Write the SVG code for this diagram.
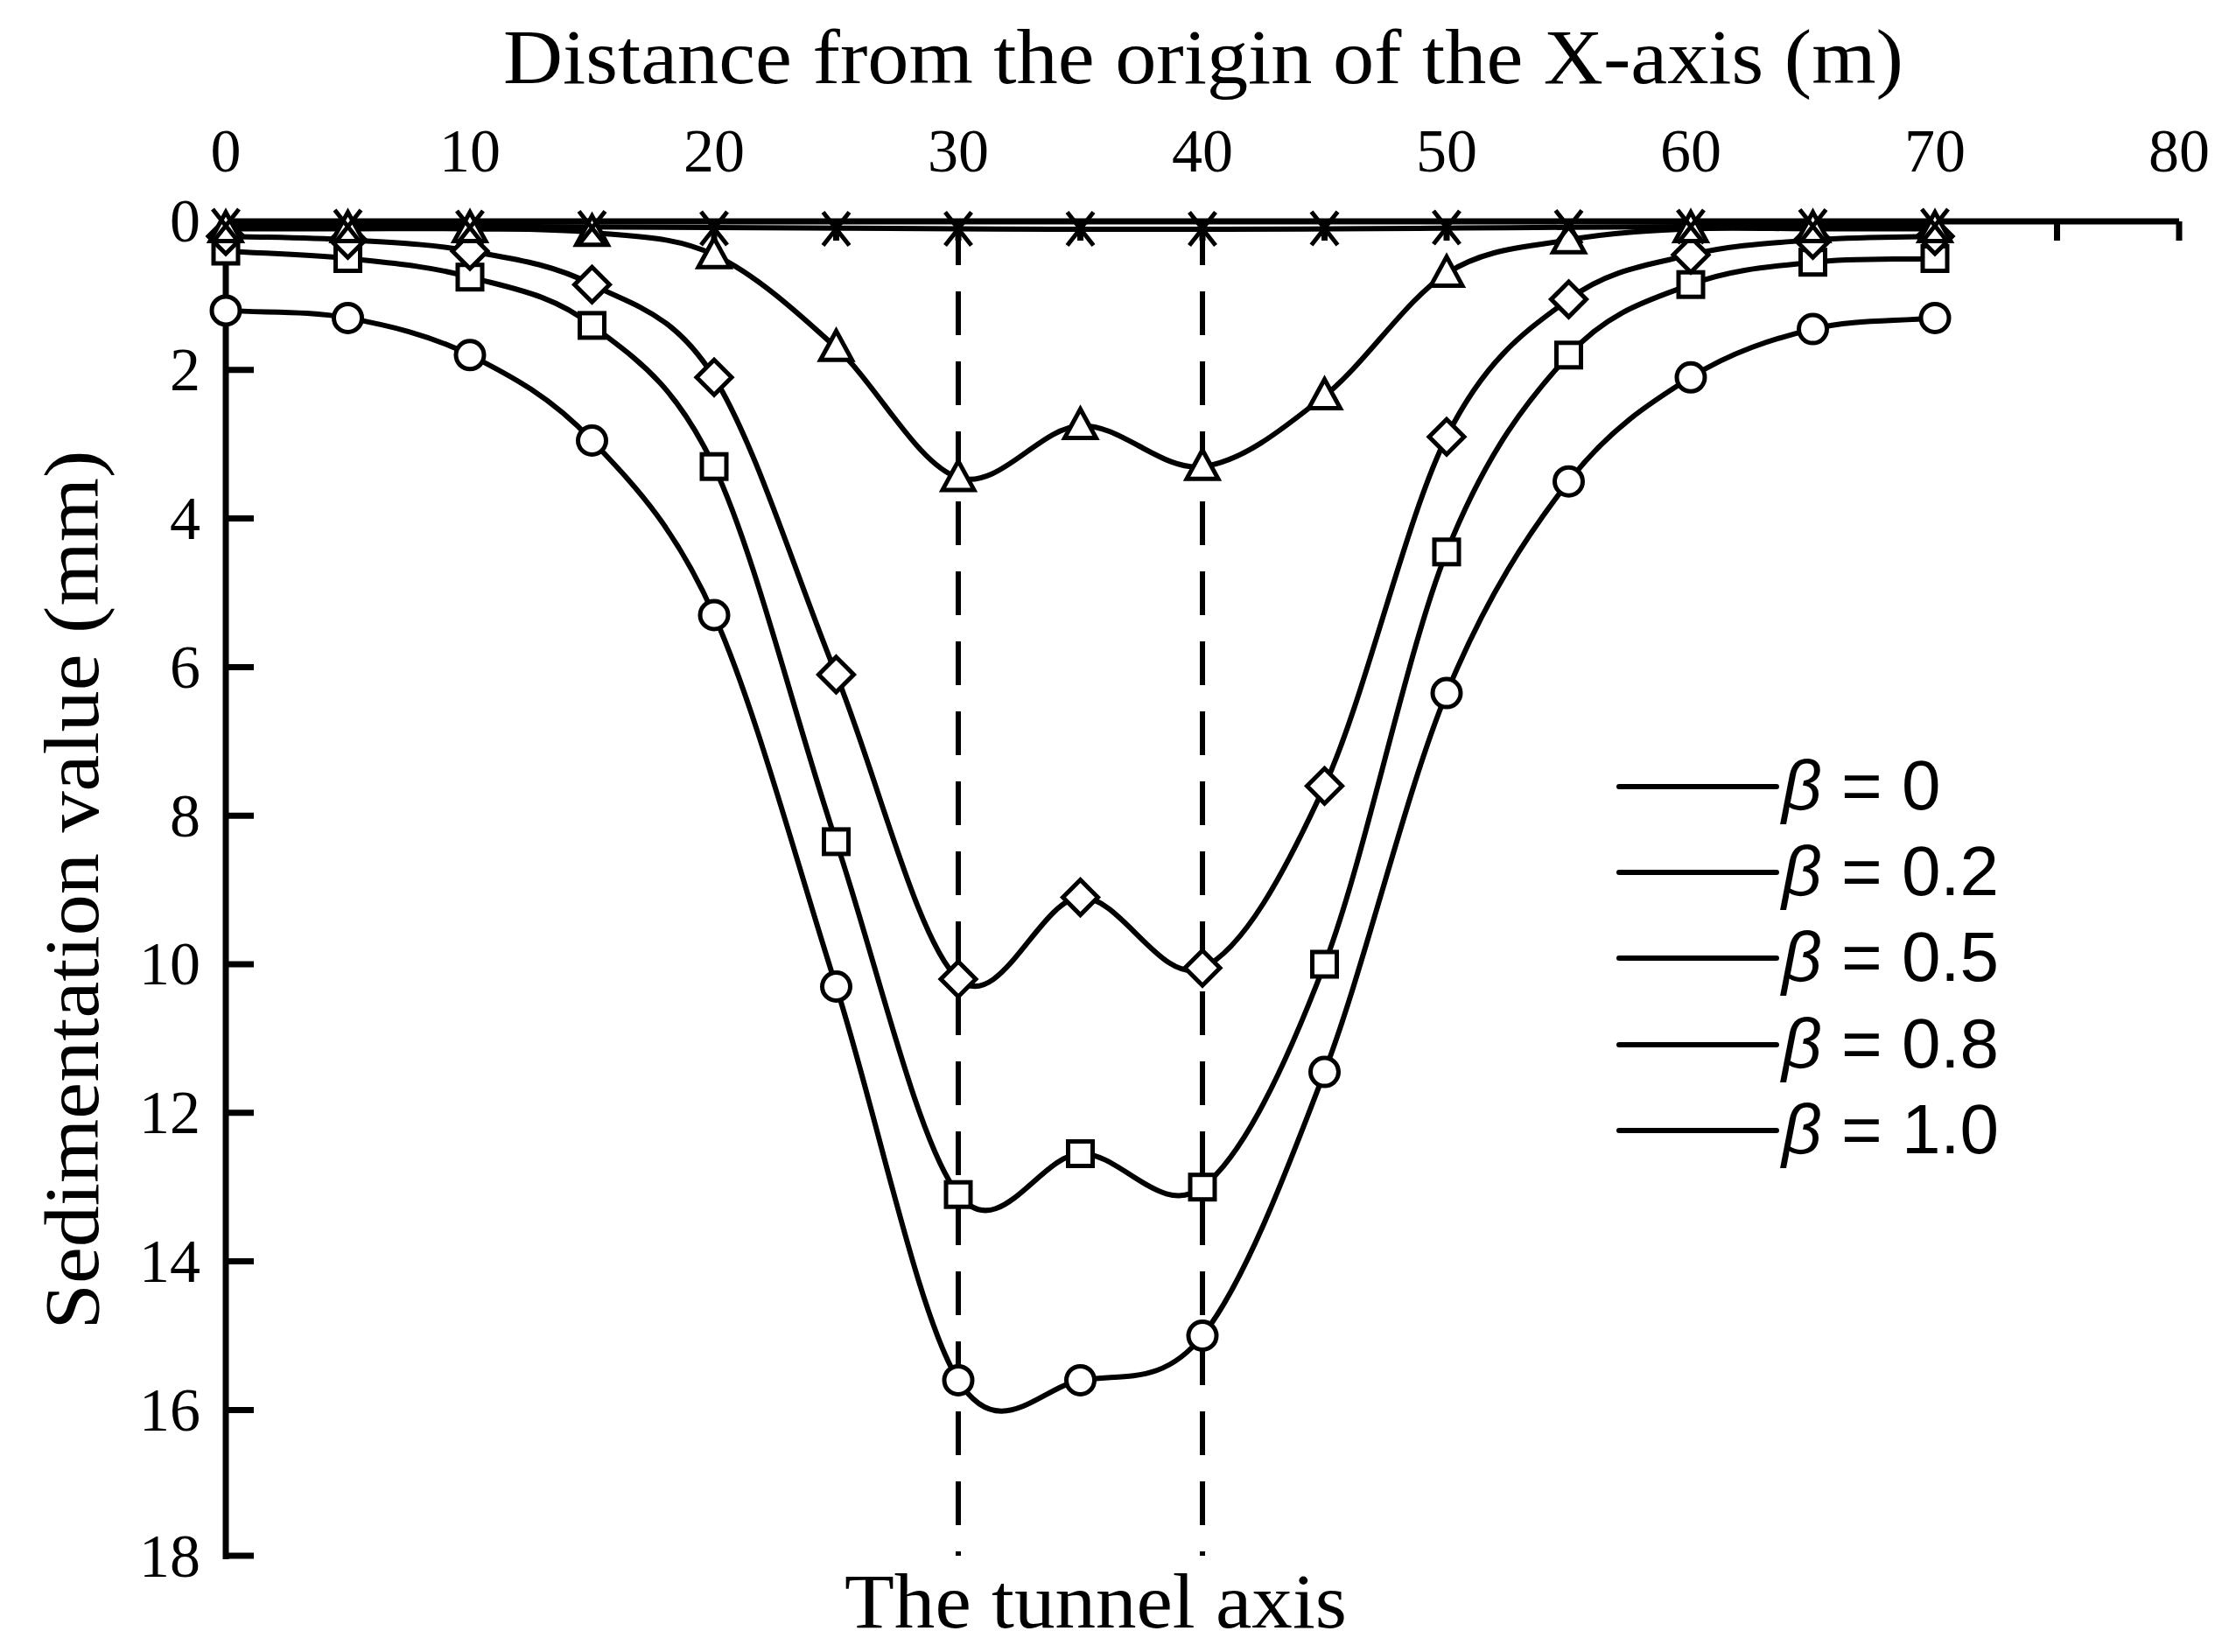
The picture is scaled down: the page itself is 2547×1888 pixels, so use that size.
<svg xmlns="http://www.w3.org/2000/svg" width="2547" height="1888" viewBox="0 0 2547 1888">
<style>
.t{font-family:"Liberation Serif","Times New Roman",serif;fill:#000}
.a{font-family:"Liberation Sans",Arial,sans-serif;fill:#000;font-size:80px}
.ax{stroke:#000;stroke-width:7;fill:none}
.c{fill:none;stroke:#000;stroke-width:6;vector-effect:non-scaling-stroke;stroke-linejoin:round}
.m{fill:none;stroke:none}
</style>
<defs>
<marker id="mo" markerUnits="userSpaceOnUse" markerWidth="50" markerHeight="50" refX="25" refY="25" overflow="visible"><circle cx="25" cy="25" r="16" fill="#fff" stroke="#000" stroke-width="5"/></marker>
<marker id="ms" markerUnits="userSpaceOnUse" markerWidth="50" markerHeight="50" refX="25" refY="25" overflow="visible"><rect x="11" y="11" width="28" height="28" fill="#fff" stroke="#000" stroke-width="5"/></marker>
<marker id="md" markerUnits="userSpaceOnUse" markerWidth="50" markerHeight="50" refX="25" refY="25" overflow="visible"><polygon points="25,5 45,25 25,45 5,25" fill="#fff" stroke="#000" stroke-width="5"/></marker>
<marker id="mt" markerUnits="userSpaceOnUse" markerWidth="50" markerHeight="50" refX="25" refY="25" overflow="visible"><polygon points="25,6 43,39 7,39" fill="#fff" stroke="#000" stroke-width="5"/></marker>
<marker id="mx" markerUnits="userSpaceOnUse" markerWidth="50" markerHeight="50" refX="25" refY="25" overflow="visible"><path d="M10,6 L40,44 M40,6 L10,44" stroke="#000" stroke-width="5"/></marker>
</defs>
<rect width="2547" height="1888" fill="#fff"/>
<g id="axes">
<path class="ax" d="M258,253 H2490 M258,249 V1782"/>
<path class="ax" d="M397.5,253 v22 M537,253 v22 M676.5,253 v22 M816,253 v22 M955.5,253 v22 M1095,253 v22 M1234.5,253 v22 M1374,253 v22 M1513.5,253 v22 M1653,253 v22 M1792.5,253 v22 M1932,253 v22 M2071.5,253 v22 M2211,253 v22 M2350.5,253 v22 M2490,253 v22"/>
<path class="ax" d="M258,422.8 h32 M258,592.6 h32 M258,762.4 h32 M258,932.2 h32 M258,1102 h32 M258,1271.8 h32 M258,1441.6 h32 M258,1611.4 h32 M258,1778 h32"/>
<g class="t" font-size="70" text-anchor="middle">
<text x="258" y="196">0</text><text x="537" y="196">10</text><text x="816" y="196">20</text><text x="1095" y="196">30</text><text x="1374" y="196">40</text><text x="1653" y="196">50</text><text x="1932" y="196">60</text><text x="2211" y="196">70</text><text x="2490" y="196">80</text>
</g>
<g class="t" font-size="70" text-anchor="end">
<text x="229" y="276">0</text><text x="229" y="446">2</text><text x="229" y="616">4</text><text x="229" y="786">6</text><text x="229" y="956">8</text><text x="229" y="1125">10</text><text x="229" y="1295">12</text><text x="229" y="1465">14</text><text x="229" y="1635">16</text><text x="229" y="1802">18</text>
</g>
<text class="t" font-size="88" x="1375" y="95" text-anchor="middle" textLength="1600" lengthAdjust="spacingAndGlyphs">Distance from the origin of the X-axis (m)</text>
<text class="t" font-size="88" transform="translate(112,1017) rotate(-90)" text-anchor="middle" textLength="1005" lengthAdjust="spacingAndGlyphs">Sedimentation value (mm)</text>
<text class="t" font-size="88" x="1252" y="1860" text-anchor="middle" textLength="574" lengthAdjust="spacingAndGlyphs">The tunnel axis</text>
</g>
<g id="tunnel-lines">
<path d="M1095,253 V1778 M1374,253 V1778" stroke="#000" stroke-width="6" stroke-dasharray="50,30"/>
</g>
<g id="connectors" transform="translate(258,253) scale(27.9,84.9)">
<path class="c" d="M0 1.2 C1.667 1.233 3.333 1.2 5 1.3 S8.333 1.525 10 1.8 S13.333 2.367 15 2.95 S18.333 4.075 20 5.3 S23.333 8.583 25 10.3 S28.333 14.717 30 15.6 S33.333 15.7 35 15.6 S38.333 15.692 40 15.0 S43.333 12.892 45 11.45 S48.333 7.675 50 6.35 S53.333 4.208 55 3.5 S58.333 2.442 60 2.1 S63.333 1.583 65 1.45 S68.333 1.35 70 1.3"/>
<path class="c" d="M0 0.4 C1.667 0.433 3.333 0.442 5 0.5 S8.333 0.6 10 0.75 S13.333 0.975 15 1.4 S18.333 2.142 20 3.3 S23.333 6.717 25 8.35 S28.333 12.4 30 13.1 S33.333 12.567 35 12.55 S38.333 13.425 40 13.0 S43.333 11.425 45 10.0 S48.333 5.817 50 4.45 S53.333 2.4 55 1.8 S58.333 1.058 60 0.85 S63.333 0.608 65 0.55 S68.333 0.517 70 0.5"/>
<path class="c" d="M0 0.2 C1.667 0.217 3.333 0.217 5 0.25 S8.333 0.3 10 0.4 S13.333 0.567 15 0.85 S18.333 1.225 20 2.1 S23.333 4.75 25 6.1 S28.333 9.7 30 10.2 S33.333 9.125 35 9.1 S38.333 10.3 40 10.05 S43.333 8.792 45 7.6 S48.333 3.992 50 2.9 S53.333 1.458 55 1.05 S58.333 0.583 60 0.45 S63.333 0.292 65 0.25 S68.333 0.217 70 0.2"/>
<path class="c" d="M0 0.1 C1.667 0.1 3.333 0.1 5 0.1 S8.333 0.092 10 0.1 S13.333 0.092 15 0.15 S18.333 0.192 20 0.45 S23.333 1.2 25 1.7 S28.333 3.275 30 3.45 S33.333 2.775 35 2.75 S38.333 3.367 40 3.3 S43.333 2.783 45 2.35 S48.333 1.05 50 0.7 S53.333 0.35 55 0.25 S58.333 0.125 60 0.1 S63.333 0.1 65 0.1 S68.333 0.1 70 0.1"/>
<path class="c" d="M0 0.05 C10 0.06 20 0.08 30 0.1 S50 0.09 55 0.08 S65 0.06 70 0.05"/>
</g>
<g id="s-beta0"><polyline class="m" marker-start="url(#mo)" marker-mid="url(#mo)" marker-end="url(#mo)" points="258,354.9 397.5,363.4 537,405.8 676.5,503.5 816,703 955.5,1127.5 1095,1577.4 1234.5,1577.4 1374,1526.5 1513.5,1225.1 1653,792.1 1792.5,550.2 1932,431.3 2071.5,376.1 2211,363.4"/></g>
<g id="s-beta02"><polyline class="m" marker-start="url(#ms)" marker-mid="url(#ms)" marker-end="url(#ms)" points="258,287 397.5,295.5 537,316.7 676.5,371.9 816,533.2 955.5,961.9 1095,1365.2 1234.5,1318.5 1374,1356.7 1513.5,1102 1653,630.8 1792.5,405.8 1932,325.2 2071.5,299.7 2211,295.5"/></g>
<g id="s-beta05"><polyline class="m" marker-start="url(#md)" marker-mid="url(#md)" marker-end="url(#md)" points="258,270 397.5,274.2 537,287 676.5,325.2 816,431.3 955.5,770.9 1095,1119 1234.5,1025.6 1374,1106.2 1513.5,898.2 1653,499.2 1792.5,342.1 1932,291.2 2071.5,274.2 2211,270"/></g>
<g id="s-beta08"><polyline class="m" marker-start="url(#mt)" marker-mid="url(#mt)" marker-end="url(#mt)" points="258,261.5 397.5,261.5 537,261.5 676.5,265.7 816,291.2 955.5,397.3 1095,545.9 1234.5,486.5 1374,533.2 1513.5,452.5 1653,312.4 1792.5,274.2 1932,261.5 2071.5,261.5 2211,261.5"/></g>
<g id="s-beta10"><polyline class="m" marker-start="url(#mx)" marker-mid="url(#mx)" marker-end="url(#mx)" points="258,258 397.5,259 537,260 676.5,260.5 816,261 955.5,261.5 1095,261.5 1234.5,261.5 1374,261.5 1513.5,261 1653,260 1792.5,259.5 1932,259 2071.5,258.5 2211,258"/></g>
<g id="legend">
<path d="M1850,899 H2030 M1850,997 H2030 M1850,1095 H2030 M1850,1194 H2030 M1850,1292 H2030" stroke="#000" stroke-width="6" stroke-linecap="round"/>
<polyline class="m" marker-start="url(#mo)" points="1940,899"/>
<polyline class="m" marker-start="url(#ms)" points="1940,997"/>
<polyline class="m" marker-start="url(#md)" points="1940,1095"/>
<polyline class="m" marker-start="url(#mt)" points="1940,1194"/>
<polyline class="m" marker-start="url(#mx)" points="1940,1292"/>
<text class="a" x="2036" y="925"><tspan font-style="italic">β</tspan> = 0</text>
<text class="a" x="2036" y="1023"><tspan font-style="italic">β</tspan> = 0.2</text>
<text class="a" x="2036" y="1121"><tspan font-style="italic">β</tspan> = 0.5</text>
<text class="a" x="2036" y="1220"><tspan font-style="italic">β</tspan> = 0.8</text>
<text class="a" x="2036" y="1318"><tspan font-style="italic">β</tspan> = 1.0</text>
</g>
</svg>
